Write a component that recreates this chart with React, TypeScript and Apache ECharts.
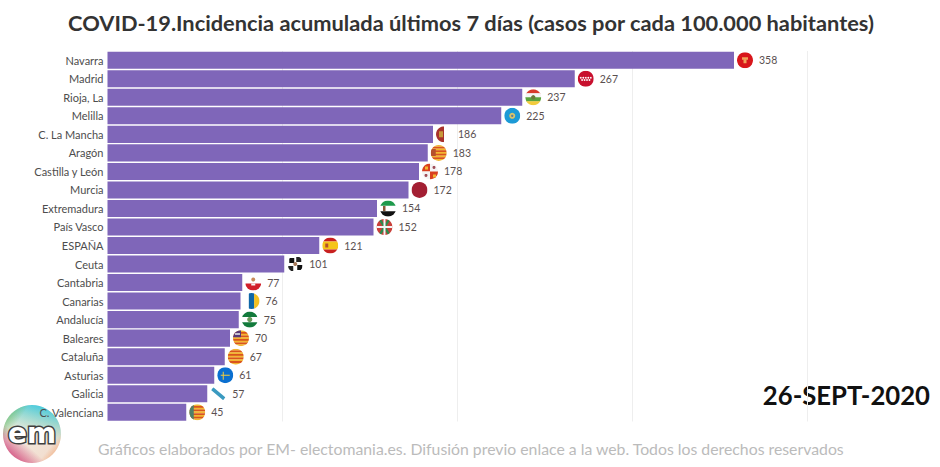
import React, { useEffect, useRef } from "react";
import * as echarts from "echarts";

const categories = ["Navarra","Madrid","Rioja, La","Melilla","C. La Mancha","Aragón","Castilla y León","Murcia","Extremadura","País Vasco","ESPAÑA","Ceuta","Cantabria","Canarias","Andalucía","Baleares","Cataluña","Asturias","Galicia","C. Valenciana"];
const values = [358,267,237,225,186,183,178,172,154,152,121,101,77,76,75,70,67,61,57,45];
const xTicks = [100,200,300,400];
const titleText = "COVID-19.Incidencia acumulada últimos 7 días (casos por cada 100.000 habitantes)";
const dateText = "26-SEPT-2020";
const footerText = "Gráficos elaborados por EM- electomania.es. Difusión previo enlace a la web. Todos los derechos reservados";

const FONT = "Lato, 'Noto Sans', sans-serif";
const R = 8;
const rect = (x: number, y: number, w: number, h: number, fill: string, rotation = 0) => ({
  type: "rect", shape: { x, y, width: w, height: h }, style: { fill }, rotation,
});
const dot = (cx: number, cy: number, r: number, fill: string) => ({ type: "circle", shape: { cx, cy, r }, style: { fill } });
const hStripes = (cols: string[]) => {
  const h = (2 * R) / cols.length;
  return cols.map((c, i) => rect(-R, -R + i * h, 2 * R, h + 0.2, c));
};
const vStripes = (cols: string[]) => {
  const w = (2 * R) / cols.length;
  return cols.map((c, i) => rect(-R + i * w, -R, w + 0.2, 2 * R, c));
};
const Y = "#f2b632", O = "#d9541e";

const flags: Record<string, () => any[]> = {
  "Navarra": () => [rect(-R,-R,16,16,"#d8161b"), rect(-3,-3,6,2.5,"#f0a35a"), rect(-1.5,-1,3,4,"#f0a35a")],
  "Madrid": () => [rect(-R,-R,16,16,"#c8102e"), ...[-5,-2.5,0,2.5,5].map(x => dot(x,-1,0.9,"#fff")), ...[-3.7,-1.2,1.2,3.7].map(x => dot(x,1.2,0.9,"#fff"))],
  "Rioja, La": () => [...hStripes(["#d8392b","#f4f4f4","#5aa23c","#f2cb3c"]), dot(0,0,2.2,"#6b7a3a")],
  "Melilla": () => [rect(-R,-R,16,16,"#1c9ad6"), dot(0,0,3,"#d9c46a"), dot(0,0,1.2,"#5a7fa0")],
  "C. La Mancha": () => [rect(-R,-R,8,16,"#a8322c"), rect(-5,-3,4,6,"#c89a3a"), rect(0,-R,8,16,"#ffffff")],
  "Aragón": () => [...hStripes([Y,O,Y,O,Y,O,Y,O,Y]), rect(-R,-4,5,7,"#b5502c")],
  "Castilla y León": () => [rect(-R,-R,8,8,"#d9401f"), rect(0,-R,8,8,"#f4f4f4"), rect(-R,0,8,8,"#f4f4f4"), rect(0,0,8,8,"#d9401f"), rect(-5,-5,3,3,Y), rect(3,3,3,3,Y), dot(4,-4,1.5,"#a0505a"), dot(-4,4,1.5,"#a0505a")],
  "Murcia": () => [rect(-R,-R,16,16,"#a31f33")],
  "Extremadura": () => [...hStripes(["#1e9a4c","#ffffff","#111111"]), rect(-5,-2.5,2.5,5,"#8a5a3a")],
  "País Vasco": () => [rect(-R,-R,16,16,"#c9403a"), rect(-11,-1.2,22,2.4,"#2f8a4c",45), rect(-11,-1.2,22,2.4,"#2f8a4c",-45), rect(-R,-1,16,2,"#f4f4f4"), rect(-1,-R,2,16,"#f4f4f4")],
  "ESPAÑA": () => [rect(-R,-R,16,4,"#c8201f"), rect(-R,-4,16,8,"#f5c518"), rect(-R,4,16,4,"#c8201f"), rect(-5,-2,3,4,"#b5502c")],
  "Ceuta": () => [rect(-R,-R,16,16,"#ffffff"), rect(-6,-6,5,5,"#111"), rect(1,-7,5,5,"#222"), rect(2,1,5,5,"#111"), rect(-7,2,5,5,"#222"), dot(0,0,2,"#a87a5a")],
  "Cantabria": () => [rect(-R,-R,16,16,"#ffffff"), rect(-R,1,16,7,"#d11f2a"), dot(0,-3,2,"#c98a5a"), rect(-2,1,4,2,"#f4f4f4")],
  "Canarias": () => vStripes(["#ffffff","#0f67a8","#f4c020"]),
  "Andalucía": () => [...hStripes(["#137a3c","#ffffff","#137a3c"]), dot(0,0,2.6,"#6a9a5a")],
  "Baleares": () => [...hStripes([Y,O,Y,O,Y,O,Y,O,Y]), rect(-R,-R,8,7,"#5a3a78"), rect(-6,-5,5,1.6,"#eee")],
  "Cataluña": () => hStripes([Y,O,Y,O,Y,O,Y,O,Y]),
  "Asturias": () => [rect(-R,-R,16,16,"#0a6fd0"), rect(-4.5,-0.5,9,1,"#f2cb3c"), rect(-2.5,-3.5,1,8,"#f2cb3c")],
  "Galicia": () => [rect(-R,-R,16,16,"#ffffff"), { ...rect(-8,-1.8,16,3.6,"#3a9ac0"), rotation: -0.7 }],
  "C. Valenciana": () => [...hStripes([Y,O,Y,O,Y,O,Y,O,Y]), rect(-R,-R,4.5,16,"#4f7f6a")],
};

export default function App() {
  const ref = useRef<HTMLDivElement>(null);
  useEffect(() => {
    const chart = echarts.init(ref.current!, undefined, { renderer: "svg" });
    const fade = (stops: [number, string][], x: number, y: number, x2: number, y2: number) => ({
      type: "linear", x, y, x2, y2, colorStops: stops.map(([offset, color]) => ({ offset, color })),
    });
    chart.setOption({
      animation: false,
      backgroundColor: "#ffffff",
      grid: { left: 107.5, top: 51, width: 700, height: 370.5, containLabel: false },
      xAxis: {
        type: "value", min: 0, max: xTicks[xTicks.length - 1], interval: xTicks[0],
        axisLabel: { show: false }, axisLine: { show: false }, axisTick: { show: false },
        splitLine: { show: true, showMinLine: false, lineStyle: { color: "#eeeeee", width: 1 } },
      },
      yAxis: {
        type: "category", inverse: true, data: categories,
        axisLine: { show: false }, axisTick: { show: false },
        axisLabel: { fontFamily: FONT, fontSize: 11, color: "#4d4d4d", margin: 4, interval: 0 },
      },
      series: [
        {
          type: "bar", data: values, barCategoryGap: "8%",
          itemStyle: { color: "#7f66b9" },
          label: {
            show: true, position: "right", distance: 25, fontFamily: FONT, fontSize: 10.5,
            color: "#5a5050",
          },
          z: 2,
        },
        {
          type: "custom",
          data: values.map((v, i) => [v, i]),
          encode: { x: 0, y: 1 },
          clip: false,
          z: 3,
          renderItem: (_p: any, api: any) => {
            const v = api.value(0), i = api.value(1);
            const [cx, cy] = api.coord([v, i]);
            return {
              type: "group", x: cx + 11, y: cy,
              clipPath: { type: "circle", shape: { cx: 0, cy: 0, r: R } },
              children: flags[categories[i]](),
            };
          },
        },
      ],
      graphic: [
        { type: "circle", z: 0, shape: { cx: 32, cy: 434, r: 29 }, style: { fill: fade([[0,"#eef3ee"],[1,"#f3d9c8"]],0,0,1,1) } },
        { type: "circle", z: 0, shape: { cx: 32, cy: 434, r: 29 }, style: { fill: fade([[0,"rgba(60,200,225,1)"],[0.55,"rgba(120,210,170,0)"]],0.7,0,0.4,1) } },
        { type: "circle", z: 0, shape: { cx: 32, cy: 434, r: 29 }, style: { fill: fade([[0,"rgba(90,180,90,0.95)"],[0.45,"rgba(90,180,90,0)"]],0,0.1,0.6,0.5) } },
        { type: "circle", z: 0, shape: { cx: 32, cy: 434, r: 29 }, style: { fill: fade([[0,"rgba(205,50,110,0.95)"],[0.55,"rgba(205,50,110,0)"]],0.1,0.95,0.6,0.4) } },
        { type: "circle", z: 0, shape: { cx: 32, cy: 434, r: 29 }, style: { fill: fade([[0,"rgba(240,150,90,0.85)"],[0.4,"rgba(240,150,90,0)"]],1,0.9,0.5,0.5) } },
        { type: "text", z: 1, x: 32, y: 433, style: { text: "em", fontFamily: "'DejaVu Sans', sans-serif", fontWeight: "bold", fontSize: 28, fill: "#ffffff", stroke: "#3f3f3f", lineWidth: 3, align: "center", verticalAlign: "middle" } },
        { type: "text", x: 471, y: 22, style: { text: titleText, fontFamily: FONT, fontWeight: "bold", fontSize: 21.8, fill: "#333333", align: "center", verticalAlign: "middle" } },
        { type: "text", x: 930, y: 395, style: { text: dateText, fontFamily: FONT, fontWeight: "bold", fontSize: 25.7, fill: "#111111", align: "right", verticalAlign: "middle" } },
        { type: "text", x: 98, y: 448, style: { text: footerText, fontFamily: FONT, fontSize: 15.8, fill: "#bbbbbb", align: "left", verticalAlign: "middle" } },
      ],
    });
    return () => chart.dispose();
  }, []);
  return <div ref={ref} style={{ position: "absolute", left: 0, top: 0, width: 940, height: 467 }} />;
}
